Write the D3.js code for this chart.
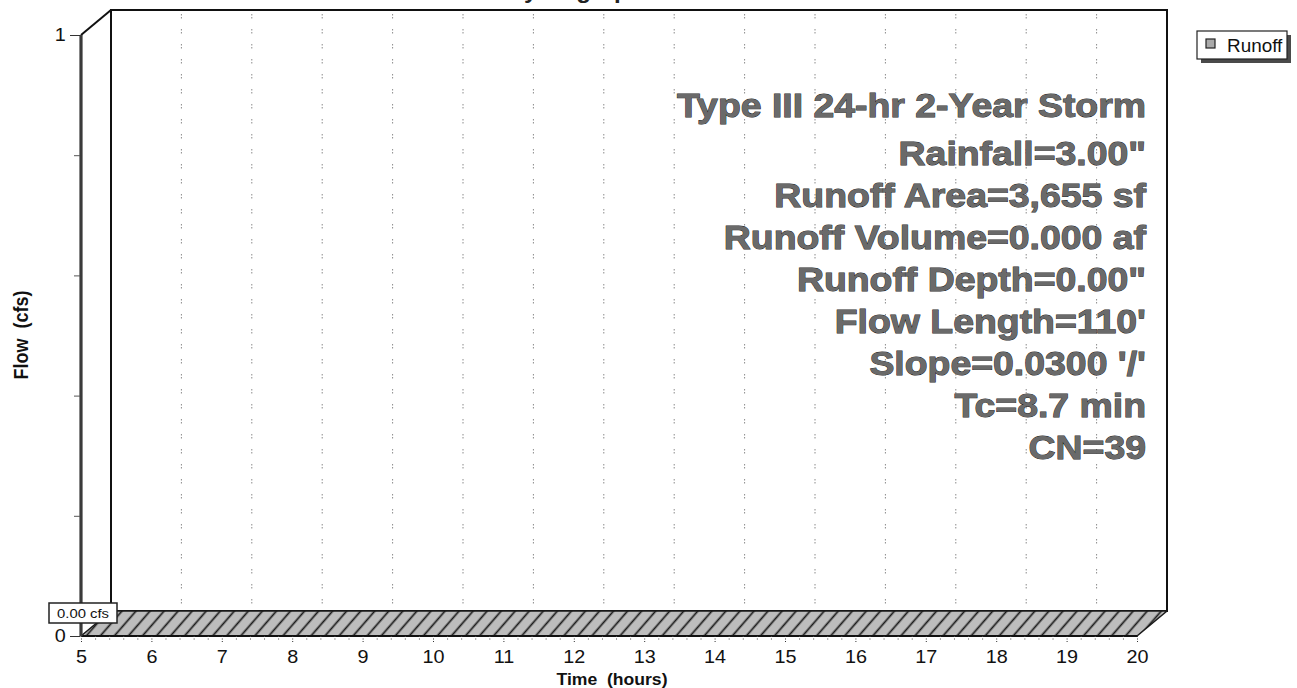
<!DOCTYPE html>
<html>
<head>
<meta charset="utf-8">
<script src="https://cdn.jsdelivr.net/npm/d3@7"></script>
<style>
  html, body { margin: 0; padding: 0; background: #fff; }
  svg { display: block; font-family: Arial, "Liberation Sans", Helvetica, sans-serif; }
</style>
</head>
<body>
<script>
// Runoff hydrograph for the subcatchment (flow stays at zero all storm long)
const hours = [5, 6, 7, 8, 9, 10, 11, 12, 13, 14, 15, 16, 17, 18, 19, 20];
const runoffCfs = [0, 0, 0, 0, 0, 0, 0, 0, 0, 0, 0, 0, 0, 0, 0, 0];
const xTickValues = [5, 6, 7, 8, 9, 10, 11, 12, 13, 14, 15, 16, 17, 18, 19, 20];
const yTickValues = [0, 1];
const yMinorTicks = [0.2, 0.4, 0.6, 0.8];
const seriesNames = ["Runoff"];
const summaryLines = [
  "Type III 24-hr 2-Year Storm",
  "Rainfall=3.00\"",
  "Runoff Area=3,655 sf",
  "Runoff Volume=0.000 af",
  "Runoff Depth=0.00\"",
  "Flow Length=110'",
  "Slope=0.0300 '/'",
  "Tc=8.7 min",
  "CN=39"
];

const W = 1297, H = 688;
const depth = { dx: 30, dy: -25 };
const wide = 1.1; // glyphs in this plot are drawn slightly wide

const svg = d3.select("body").append("svg").attr("width", W).attr("height", H);

const x = d3.scaleLinear().domain([5, 20]).range([81, 1137]);
const y = d3.scaleLinear().domain([0, 1]).range([636, 35]);

const defs = svg.append("defs");
const hatch = defs.append("pattern")
  .attr("id", "hatch")
  .attr("patternUnits", "userSpaceOnUse")
  .attr("width", 10.6).attr("height", 10.6)
  .attr("patternTransform", "rotate(41)");
hatch.append("rect").attr("width", 10.6).attr("height", 10.6).attr("fill", "#bdbdbd");
hatch.append("line").attr("x1", 5.3).attr("x2", 5.3).attr("y1", 0).attr("y2", 10.6)
  .attr("stroke", "#1a1a1a").attr("stroke-width", 1.7);

// title (runs off the top edge)
svg.append("text").attr("transform", "translate(575,-2) scale(1.1,1)")
  .attr("text-anchor", "middle").attr("font-weight", "bold").attr("font-size", 22)
  .attr("fill", "#222").text("Hydrograph");

// back wall
const [x0, x1] = x.domain().map(x);
const yTop = y(1), yBot = y(0);
svg.append("rect")
  .attr("x", x0 + depth.dx).attr("y", yTop + depth.dy)
  .attr("width", x1 - x0).attr("height", yBot - yTop)
  .attr("fill", "#fff").attr("stroke", "#111").attr("stroke-width", 2);

// vertical grid on the back wall
svg.append("g").selectAll("line")
  .data(xTickValues.filter(d => d > 5 && d < 20))
  .join("line")
  .attr("x1", d => x(d) + depth.dx).attr("x2", d => x(d) + depth.dx)
  .attr("y1", yTop + depth.dy + 4).attr("y2", yBot + depth.dy)
  .attr("stroke", "#8a8a8a").attr("stroke-width", 1)
  .attr("stroke-dasharray", "1.5,1.5,1.5,10.5");

// top-left depth edge
svg.append("line")
  .attr("x1", x0).attr("y1", yTop)
  .attr("x2", x0 + depth.dx).attr("y2", yTop + depth.dy)
  .attr("stroke", "#111").attr("stroke-width", 2);

// runoff series as an extruded area (front edge + back edge)
const front = hours.map((t, i) => [x(t), y(runoffCfs[i])]);
const back = hours.map((t, i) => [x(t) + depth.dx, y(runoffCfs[i]) + depth.dy]).reverse();
svg.append("path")
  .attr("d", d3.line()(front.concat(back)) + "Z")
  .attr("fill", "url(#hatch)").attr("stroke", "#1a1a1a").attr("stroke-width", 1.6)
  .attr("stroke-linejoin", "round");
// front face of the area down to zero
const frontFace = d3.area().x((d, i) => x(hours[i])).y0(y(0)).y1(d => y(d));
svg.append("path").attr("d", frontFace(runoffCfs))
  .attr("fill", "#8c8c8c").attr("stroke", "#111").attr("stroke-width", 2);

// front-left axis post
svg.append("line")
  .attr("x1", x0).attr("x2", x0).attr("y1", yTop).attr("y2", yBot)
  .attr("stroke", "#3a3a3a").attr("stroke-width", 3.2);

// y axis
const yAxis = svg.append("g").attr("transform", `translate(${x0 - 1},0)`)
  .call(d3.axisLeft(y).tickValues(yTickValues).tickSize(10).tickPadding(3).tickFormat(d3.format("d")));
yAxis.select(".domain").remove();
yAxis.selectAll("text").attr("font-size", 18).attr("font-family", "Arial, 'Liberation Sans', sans-serif")
  .attr("fill", "#111").attr("transform", `scale(${wide},1)`);
yAxis.selectAll("line").attr("stroke", "#333");
const yMinor = svg.append("g").attr("transform", `translate(${x0 - 1},0)`)
  .call(d3.axisLeft(y).tickValues(yMinorTicks).tickSize(6).tickFormat(""));
yMinor.select(".domain").remove();
yMinor.selectAll("line").attr("stroke", "#555");

// x axis
const xAxis = svg.append("g").attr("transform", `translate(0,${yBot})`)
  .call(d3.axisBottom(x).tickValues(xTickValues).tickSize(6).tickPadding(8).tickFormat(d3.format("d")));
xAxis.select(".domain").remove();
xAxis.selectAll("text").attr("font-size", 18).attr("font-family", "Arial, 'Liberation Sans', sans-serif")
  .attr("fill", "#111").attr("transform", `scale(${wide},1)`);
xAxis.selectAll("line").attr("stroke", "#333").attr("stroke-dasharray", "1,1.5");
const xMinorVals = d3.range(5, 20.001, 0.2).filter(v => Math.abs(v - Math.round(v)) > 0.01);
const xMinor = svg.append("g").attr("transform", `translate(0,${yBot})`)
  .call(d3.axisBottom(x).tickValues(xMinorVals).tickSize(4).tickFormat(""));
xMinor.select(".domain").remove();
xMinor.selectAll("line").attr("stroke", "#444").attr("stroke-dasharray", "1,1.5");

// axis titles
svg.append("text")
  .attr("transform", "translate(28,335) rotate(-90) scale(1,1.1)")
  .attr("text-anchor", "middle").attr("font-weight", "bold").attr("font-size", 18)
  .style("white-space", "pre").attr("fill", "#111").text("Flow  (cfs)");
svg.append("text")
  .attr("transform", `translate(${(x0 + x1) / 2 + 3},685) scale(${wide},1)`)
  .attr("text-anchor", "middle").attr("font-weight", "bold").attr("font-size", 16)
  .style("white-space", "pre").attr("fill", "#111").text("Time  (hours)");

// peak flow callout
const peak = d3.max(runoffCfs);
const tPeak = hours[runoffCfs.indexOf(peak)];
const cx = x(tPeak) + 2, cy = y(peak) - 23;
const callout = svg.append("g");
callout.append("rect").attr("x", cx - 34).attr("y", cy - 10).attr("width", 68).attr("height", 20)
  .attr("fill", "#fff").attr("stroke", "#222").attr("stroke-width", 1.5);
callout.append("text").attr("transform", `translate(${cx},${cy + 5}) scale(${wide},1)`)
  .attr("text-anchor", "middle").attr("font-size", 13.5).attr("fill", "#111")
  .text(`${peak.toFixed(2)} cfs`);

// summary block
svg.append("g").attr("transform", `translate(1146,0) scale(${wide},1)`)
  .selectAll("text")
  .data(summaryLines)
  .join("text")
  .attr("x", 0)
  .attr("y", (d, i) => i === 0 ? 117 : 165 + (i - 1) * 42)
  .attr("text-anchor", "end")
  .attr("font-weight", "bold").attr("font-size", 34)
  .attr("fill", "#6a6a6a").attr("stroke", "#1e1e1e").attr("stroke-width", 0.9)
  .attr("paint-order", "stroke")
  .text(d => d);

// legend
const lg = svg.append("g").attr("transform", "translate(1197,31)");
lg.append("rect").attr("x", 4).attr("y", 4).attr("width", 90).attr("height", 28).attr("fill", "#4a4a4a");
lg.append("rect").attr("width", 90).attr("height", 28).attr("fill", "#fff").attr("stroke", "#222").attr("stroke-width", 1.2);
lg.append("rect").attr("x", 9).attr("y", 8).attr("width", 9).attr("height", 9)
  .attr("fill", "#aaa").attr("stroke", "#222").attr("stroke-width", 1.2);
lg.append("text").attr("transform", "translate(30,21) scale(1.05,1)")
  .attr("font-size", 18).attr("fill", "#111").text(seriesNames[0]);
</script>
</body>
</html>
